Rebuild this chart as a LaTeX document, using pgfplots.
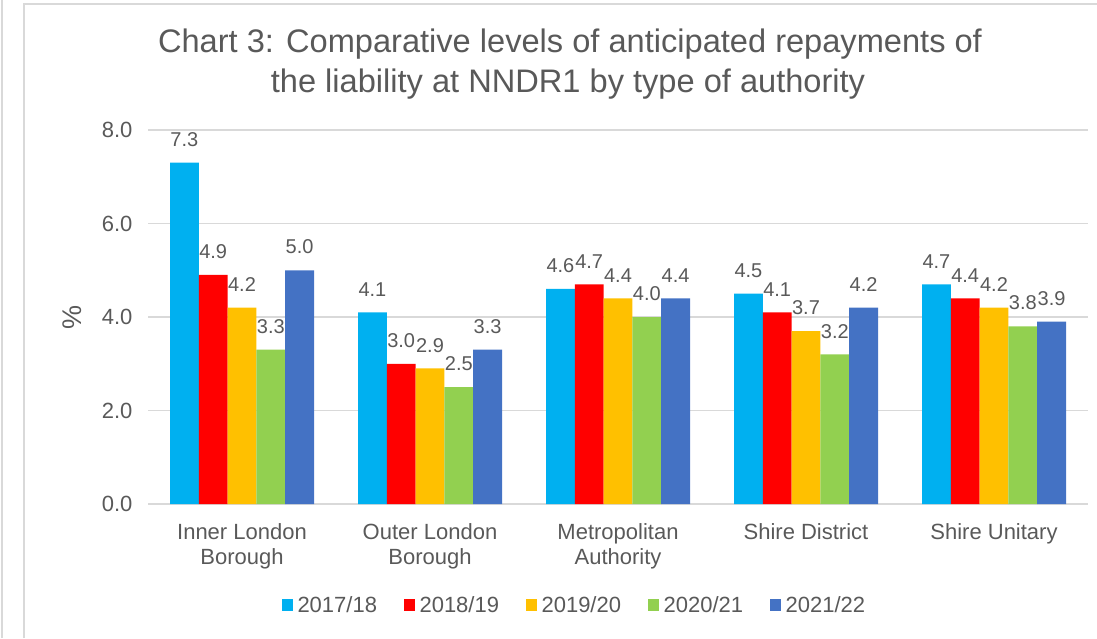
\documentclass[border=0pt]{standalone}
\usepackage{fontspec}
\setmainfont{Liberation Sans}
\usepackage{pgfplots}
\pgfplotsset{compat=1.18}
\definecolor{cA}{HTML}{00B0F0}
\definecolor{cB}{HTML}{FF0000}
\definecolor{cC}{HTML}{FFC000}
\definecolor{cD}{HTML}{92D050}
\definecolor{cE}{HTML}{4472C4}
\definecolor{gridgray}{HTML}{D9D9D9}
\definecolor{txt}{HTML}{595959}
\begin{document}
\begin{tikzpicture}
\useasboundingbox (0pt,0pt) rectangle (1097pt,638pt);
\draw[gridgray, line width=2pt] (2pt,0pt) -- (2pt,638pt);
\draw[gridgray, line width=2pt] (24pt,0pt) -- (24pt,634pt) -- (1097pt,634pt);
\node[anchor=base, text=txt, font=\fontsize{32.6}{38}\selectfont] at (570pt,585pt) {Chart 3: Comparative levels of anticipated repayments of};
\node[anchor=base, text=txt, font=\fontsize{32.6}{38}\selectfont] at (568pt,545pt) {the liability at NNDR1 by type of authority};
\node[rotate=90, text=txt, font=\fontsize{27}{30}\selectfont] at (72pt,321pt) {\%};
\begin{axis}[
  at={(148pt,134pt)}, anchor=south west,
  width=940pt, height=374pt, scale only axis,
  ybar=0pt, bar width=28.8pt,
  xmin=-0.5, xmax=4.5, ymin=0, ymax=8,
  xtick={0,1,2,3,4},
  xticklabels={{Inner London\\Borough},{Outer London\\Borough},{Metropolitan\\Authority},{Shire District},{Shire Unitary}},
  ytick={0,2,4,6,8},
  /pgf/number format/assume math mode=true,
  yticklabel style={/pgf/number format/fixed, /pgf/number format/fixed zerofill, /pgf/number format/precision=1, text=txt, font=\fontsize{22}{26}\selectfont, anchor=east, xshift=-12pt},
  xticklabel style={align=center, text=txt, font=\fontsize{22}{25}\selectfont, anchor=north, yshift=-16pt},
  major tick length=0pt,
  axis line style={draw=none},
  ymajorgrids, grid style={gridgray, line width=1.5pt},
  nodes near coords,
  nodes near coords style={/pgf/number format/fixed, /pgf/number format/fixed zerofill, /pgf/number format/precision=1, /pgf/number format/assume math mode=true, text=txt, font=\fontsize{20}{24}\selectfont, anchor=south, inner sep=0pt, yshift=16pt},
  legend style={at={(0.453,-0.27)}, anchor=center, legend columns=-1, draw=none, text=txt, font=\fontsize{22}{26}\selectfont, /tikz/every odd column/.append style={column sep=3.5pt}, /tikz/every even column/.append style={column sep=25.5pt}, nodes={inner sep=1pt}},
  legend image code/.code={\fill[#1] (0pt,-6pt) rectangle (11.5pt,6pt);},
]
\addplot[fill=cA, draw=none] coordinates {(0,7.3) (1,4.1) (2,4.6) (3,4.5) (4,4.7)};
\addplot[fill=cB, draw=none] coordinates {(0,4.9) (1,3.0) (2,4.7) (3,4.1) (4,4.4)};
\addplot[fill=cC, draw=none] coordinates {(0,4.2) (1,2.9) (2,4.4) (3,3.7) (4,4.2)};
\addplot[fill=cD, draw=none] coordinates {(0,3.3) (1,2.5) (2,4.0) (3,3.2) (4,3.8)};
\addplot[fill=cE, draw=none] coordinates {(0,5.0) (1,3.3) (2,4.4) (3,4.2) (4,3.9)};
\legend{2017/18,2018/19,2019/20,2020/21,2021/22}
\end{axis}
\end{tikzpicture}
\end{document}
